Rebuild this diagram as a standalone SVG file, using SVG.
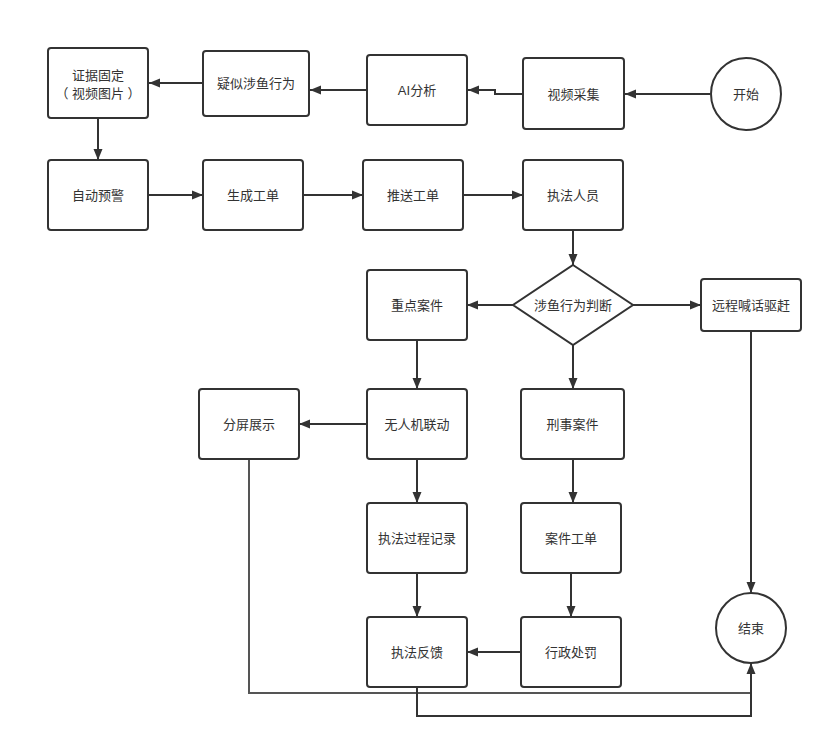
<svg xmlns="http://www.w3.org/2000/svg" width="832" height="749" viewBox="0 0 832 749">
<defs>
<style>
.n{fill:#fff;stroke:#333;stroke-width:2}
.t{font-family:"Liberation Sans","Noto Sans CJK SC",sans-serif;font-size:13px;fill:#333;text-anchor:middle;dominant-baseline:central}
.c{fill:none;stroke:#333;stroke-width:2}
.g{fill:none;stroke:#555;stroke-width:2}
</style>
<marker id="a" markerUnits="userSpaceOnUse" markerWidth="12" markerHeight="10" refX="11" refY="5" orient="auto">
<path d="M0,0.5 L11,5 L0,9.5 z" fill="#333"/>
</marker>
</defs>
<rect width="832" height="749" fill="#fff"/>
<g id="connectors">
<line class="c" x1="710" y1="94" x2="625" y2="94" marker-end="url(#a)"/>
<polyline class="c" points="523,94 495,94 495,90 468,90" marker-end="url(#a)"/>
<line class="c" x1="367" y1="90" x2="310" y2="90" marker-end="url(#a)"/>
<line class="c" x1="203" y1="83" x2="149" y2="83" marker-end="url(#a)"/>
<line class="c" x1="98" y1="118" x2="98" y2="160" marker-end="url(#a)"/>
<line class="c" x1="148" y1="195" x2="203" y2="195" marker-end="url(#a)"/>
<line class="c" x1="303" y1="195" x2="363" y2="195" marker-end="url(#a)"/>
<line class="c" x1="463" y1="195" x2="523" y2="195" marker-end="url(#a)"/>
<line class="c" x1="573" y1="230" x2="573" y2="265" marker-end="url(#a)"/>
<line class="c" x1="513" y1="305" x2="467" y2="305" marker-end="url(#a)"/>
<line class="c" x1="633" y1="305" x2="701" y2="305" marker-end="url(#a)"/>
<line class="c" x1="573" y1="345" x2="573" y2="389" marker-end="url(#a)"/>
<line class="c" x1="417" y1="340" x2="417" y2="389" marker-end="url(#a)"/>
<line class="c" x1="367" y1="424" x2="299" y2="424" marker-end="url(#a)"/>
<line class="c" x1="417" y1="459" x2="417" y2="503" marker-end="url(#a)"/>
<line class="c" x1="573" y1="459" x2="573" y2="503" marker-end="url(#a)"/>
<line class="c" x1="417" y1="573" x2="417" y2="617" marker-end="url(#a)"/>
<line class="c" x1="571" y1="573" x2="571" y2="617" marker-end="url(#a)"/>
<line class="c" x1="521" y1="652" x2="467" y2="652" marker-end="url(#a)"/>
<line class="c" x1="751" y1="331" x2="751" y2="593" marker-end="url(#a)"/>
<polyline class="g" points="249,459 249,693 751,693"/>
<polyline class="c" points="417,687 417,716 751,716 751,663" marker-end="url(#a)"/>
</g>
<g id="n-start"><ellipse class="n" cx="746" cy="94" rx="35" ry="36"/><text class="t" x="746" y="94">开始</text></g>
<g id="n-video"><rect class="n" x="523" y="58" width="101" height="71" rx="3"/><text class="t" x="573.5" y="94">视频采集</text></g>
<g id="n-ai"><rect class="n" x="367" y="55" width="100" height="70" rx="3"/><text class="t" x="417" y="90">AI分析</text></g>
<g id="n-suspect"><rect class="n" x="203" y="51" width="106" height="65" rx="3"/><text class="t" x="256" y="83">疑似涉鱼行为</text></g>
<g id="n-evidence"><rect class="n" x="48" y="48" width="100" height="70" rx="3"/><text class="t" x="98" y="75">证据固定</text><text class="t" x="98" y="93">（ 视频图片 ）</text></g>
<g id="n-alert"><rect class="n" x="48" y="160" width="100" height="70" rx="3"/><text class="t" x="98" y="195">自动预警</text></g>
<g id="n-order"><rect class="n" x="203" y="160" width="100" height="70" rx="3"/><text class="t" x="253" y="195">生成工单</text></g>
<g id="n-push"><rect class="n" x="363" y="160" width="100" height="70" rx="3"/><text class="t" x="413" y="195">推送工单</text></g>
<g id="n-officer"><rect class="n" x="523" y="160" width="100" height="70" rx="3"/><text class="t" x="573" y="195">执法人员</text></g>
<g id="n-judge"><polygon class="n" points="573,265 633,305 573,345 513,305"/><text class="t" x="573" y="305">涉鱼行为判断</text></g>
<g id="n-key"><rect class="n" x="367" y="270" width="100" height="70" rx="3"/><text class="t" x="417" y="305">重点案件</text></g>
<g id="n-shout"><rect class="n" x="701" y="279" width="100" height="52" rx="3"/><text class="t" x="751" y="305">远程喊话驱赶</text></g>
<g id="n-split"><rect class="n" x="199" y="389" width="100" height="70" rx="3"/><text class="t" x="249" y="424">分屏展示</text></g>
<g id="n-drone"><rect class="n" x="367" y="389" width="100" height="70" rx="3"/><text class="t" x="417" y="424">无人机联动</text></g>
<g id="n-criminal"><rect class="n" x="521" y="389" width="103" height="70" rx="3"/><text class="t" x="572.5" y="424">刑事案件</text></g>
<g id="n-record"><rect class="n" x="367" y="503" width="100" height="70" rx="3"/><text class="t" x="417" y="538">执法过程记录</text></g>
<g id="n-caseorder"><rect class="n" x="521" y="503" width="100" height="70" rx="3"/><text class="t" x="571" y="538">案件工单</text></g>
<g id="n-feedback"><rect class="n" x="367" y="617" width="100" height="70" rx="3"/><text class="t" x="417" y="652">执法反馈</text></g>
<g id="n-penalty"><rect class="n" x="521" y="617" width="100" height="70" rx="3"/><text class="t" x="571" y="652">行政处罚</text></g>
<g id="n-end"><circle class="n" cx="751" cy="628" r="35"/><text class="t" x="751" y="628">结束</text></g>
</svg>
